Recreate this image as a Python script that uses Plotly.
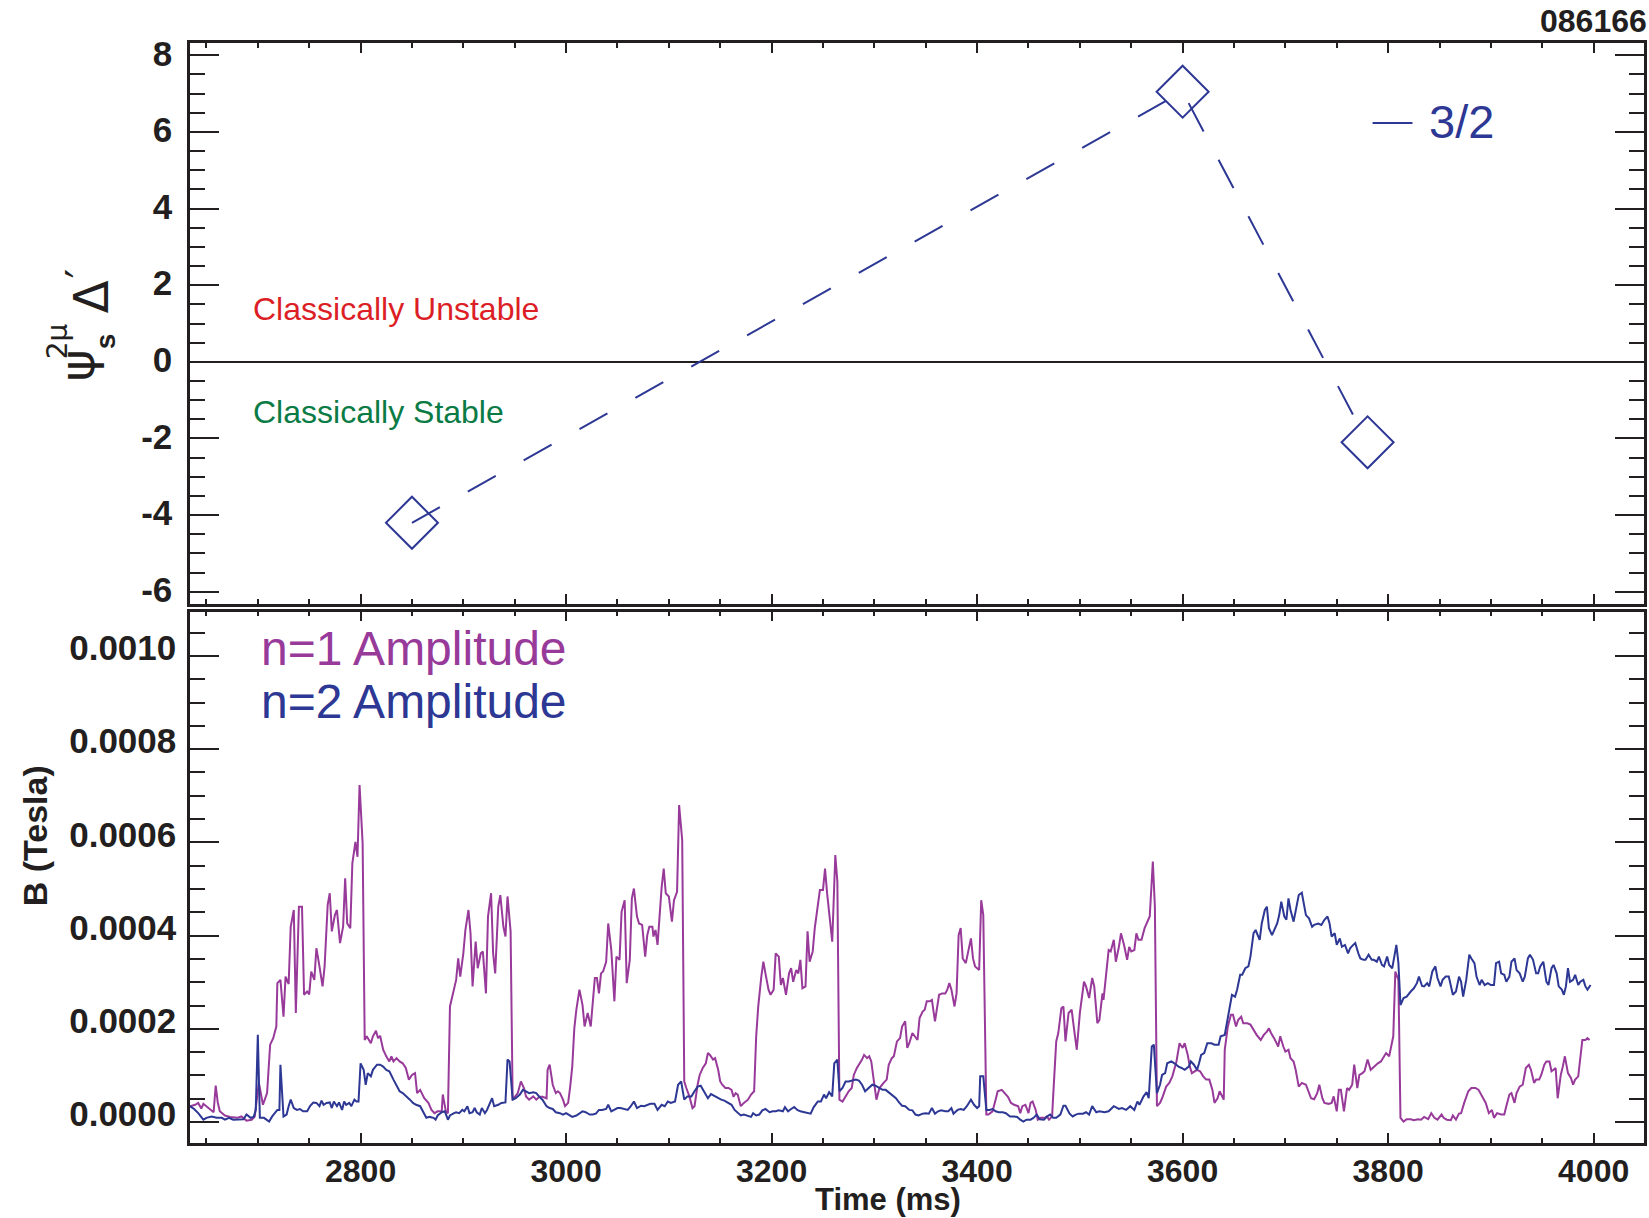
import plotly.graph_objects as go

# ---------------- data ----------------
# Delta' of the 3/2 surface (psi_s^{2mu} Delta') at three equilibrium times
delta_time = [2850, 3600, 3780]          # ms
delta_value = [-4.2, 7.05, -2.1]

# Mode amplitudes: (time [ms], amplitude [1e-4 T])
n1_samples = [
    (2634, .34), (2639, .37), (2642, .41), (2645, .29), (2647, .39), (2652, .30), (2657, .21), (2659, .78),
    (2661, .42), (2663, .23), (2668, .14), (2673, .11), (2680, .09), (2684, .12), (2689, .03), (2694, .05),
    (2697, .12), (2701, .84), (2703, .62), (2705, .37), (2709, .62), (2710, .98), (2712, 1.66), (2715, 1.80),
    (2718, 2.05), (2719, 2.98), (2722, 3.05), (2725, 2.26), (2727, 3.12), (2730, 2.96), (2732, 4.19),
    (2735, 4.55), (2737, 2.34), (2740, 4.62), (2743, 4.62), (2745, 2.73), (2748, 2.80), (2750, 2.74),
    (2752, 3.23), (2755, 3.05), (2757, 3.73), (2760, 3.34), (2763, 2.91), (2765, 3.34), (2768, 4.66),
    (2770, 4.91), (2772, 4.09), (2775, 4.44), (2777, 4.55), (2780, 3.84), (2783, 4.19), (2785, 5.23),
    (2787, 4.26), (2790, 4.16), (2792, 5.55), (2795, 6.01), (2797, 5.69), (2799, 7.23), (2802, 5.98),
    (2804, 1.76), (2806, 1.84), (2810, 1.69), (2812, 1.84), (2815, 1.96), (2817, 1.80), (2819, 1.85),
    (2822, 1.55), (2825, 1.41), (2828, 1.30), (2830, 1.41), (2832, 1.30), (2835, 1.37), (2838, 1.30),
    (2841, 1.26), (2844, 1.16), (2847, .91), (2850, 1.01), (2853, 1.05), (2855, .62), (2858, .69),
    (2860, .59), (2862, .51), (2866, .41), (2869, .26), (2872, .19), (2875, .23), (2879, .23), (2880, .59),
    (2883, .23), (2885, .19), (2887, 2.48), (2890, 2.76), (2893, 3.05), (2895, 3.51), (2897, 3.12),
    (2900, 3.62), (2902, 4.12), (2905, 4.55), (2907, 4.05), (2909, 2.91), (2912, 3.87), (2914, 3.30),
    (2917, 3.62), (2919, 3.66), (2922, 2.76), (2924, 4.41), (2927, 4.91), (2929, 3.62), (2931, 3.19),
    (2934, 4.62), (2936, 4.87), (2939, 4.19), (2941, 3.98), (2943, 4.84), (2946, 4.09), (2948, .48),
    (2951, .55), (2953, .62), (2956, .87), (2959, .73), (2961, .55), (2964, .48), (2968, .55), (2971, .48),
    (2974, .54), (2977, .54), (2981, .51), (2982, 1.12), (2984, 1.23), (2987, .80), (2990, .62), (2992, .66),
    (2994, .62), (2997, .48), (2999, .34), (3002, .41), (3004, .76), (3006, 1.19), (3008, 2.01), (3010, 2.41),
    (3013, 2.84), (3016, 2.51), (3018, 2.05), (3021, 2.34), (3024, 2.05), (3028, 3.09), (3030, 3.09),
    (3032, 2.76), (3034, 3.19), (3036, 3.23), (3039, 3.44), (3041, 4.26), (3044, 3.69), (3047, 2.59),
    (3049, 3.55), (3052, 3.48), (3054, 4.51), (3057, 4.76), (3059, 2.98), (3062, 3.48), (3064, 4.80),
    (3066, 5.01), (3069, 4.41), (3071, 4.26), (3074, 4.23), (3077, 3.55), (3079, 4.01), (3081, 4.19),
    (3084, 4.19), (3085, 3.98), (3087, 4.12), (3089, 3.80), (3093, 5.04), (3095, 5.44), (3097, 4.91),
    (3100, 4.84), (3103, 4.30), (3105, 4.76), (3108, 4.94), (3110, 6.80), (3113, 6.05), (3115, .87),
    (3117, .73), (3120, .55), (3123, .30), (3125, .34), (3128, .80), (3130, 1.01), (3133, 1.16), (3136, 1.26),
    (3138, 1.48), (3140, 1.44), (3143, 1.34), (3145, 1.37), (3148, 1.12), (3150, .87), (3152, .80),
    (3155, .73), (3158, .73), (3161, .69), (3163, .54), (3165, .62), (3167, .59), (3170, .34), (3173, .41),
    (3177, .48), (3180, .59), (3183, .66), (3185, 1.84), (3187, 2.48), (3190, 3.12), (3192, 3.44),
    (3194, 3.19), (3197, 2.84), (3199, 2.73), (3202, 2.84), (3204, 3.62), (3207, 3.55), (3209, 2.94),
    (3211, 3.09), (3214, 2.73), (3217, 3.19), (3219, 3.30), (3221, 3.01), (3224, 3.26), (3226, 3.19),
    (3228, 3.48), (3230, 2.87), (3233, 2.91), (3235, 4.09), (3237, 3.44), (3240, 3.66), (3242, 4.16),
    (3245, 4.69), (3247, 4.98), (3250, 4.98), (3252, 5.44), (3254, 4.91), (3257, 4.26), (3259, 3.87),
    (3262, 5.73), (3264, 5.16), (3266, .48), (3269, .44), (3272, .55), (3275, .66), (3278, .73), (3280, 1.01),
    (3283, 1.16), (3285, 1.23), (3288, 1.34), (3290, 1.44), (3293, 1.37), (3295, 1.41), (3297, 1.30),
    (3300, .80), (3302, .48), (3305, .73), (3307, .80), (3309, .84), (3312, .91), (3314, 1.23), (3317, 1.37),
    (3319, 1.41), (3322, 1.73), (3325, 1.80), (3327, 2.05), (3330, 2.16), (3332, 1.59), (3334, 1.69),
    (3337, 1.91), (3339, 1.84), (3342, 1.76), (3344, 2.23), (3347, 2.37), (3349, 2.41), (3351, 2.59),
    (3354, 2.59), (3356, 2.62), (3359, 2.16), (3361, 2.51), (3363, 2.73), (3366, 2.76), (3369, 2.76),
    (3371, 2.84), (3373, 2.98), (3375, 2.84), (3378, 2.48), (3380, 2.76), (3382, 4.01), (3384, 4.16),
    (3386, 3.51), (3389, 3.41), (3391, 3.62), (3394, 3.94), (3396, 3.51), (3398, 3.34), (3402, 3.26),
    (3404, 4.76), (3406, 4.44), (3409, .16), (3411, .16), (3415, .23), (3418, .48), (3420, .66), (3424, .69),
    (3427, .62), (3430, .54), (3433, .41), (3436, .37), (3440, .34), (3442, .19), (3444, .34), (3447, .37),
    (3450, .19), (3452, .41), (3454, .44), (3457, .26), (3459, .05), (3462, .09), (3466, .09), (3468, .12),
    (3470, .05), (3473, .12), (3474, .55), (3477, 1.73), (3479, 1.91), (3482, 2.44), (3484, 2.48),
    (3486, 1.73), (3489, 2.34), (3492, 2.41), (3494, 2.05), (3497, 1.55), (3500, 2.34), (3504, 3.01),
    (3506, 2.91), (3509, 2.66), (3512, 3.09), (3514, 2.91), (3517, 2.12), (3519, 2.19), (3522, 2.76),
    (3523, 2.62), (3528, 3.69), (3530, 3.66), (3533, 3.91), (3535, 3.44), (3538, 3.76), (3540, 4.05),
    (3543, 3.80), (3546, 3.48), (3548, 3.76), (3550, 3.66), (3553, 3.69), (3555, 4.05), (3557, 3.91),
    (3560, 3.91), (3563, 4.16), (3567, 4.37), (3568, 4.41), (3571, 5.59), (3573, 4.62), (3575, .34),
    (3578, .41), (3580, .51), (3584, .76), (3587, .84), (3590, .98), (3594, 1.30), (3596, 1.62), (3597, 1.69),
    (3600, 1.59), (3602, 1.69), (3605, 1.44), (3607, 1.19), (3609, 1.05), (3612, 1.09), (3614, 1.12),
    (3617, 1.09), (3620, .98), (3623, .91), (3626, .91), (3629, .69), (3631, .41), (3634, .51), (3636, .66),
    (3640, .48), (3641, 1.55), (3644, 2.05), (3647, 2.30), (3649, 2.30), (3652, 2.05), (3654, 2.19),
    (3657, 2.26), (3659, 2.12), (3663, 2.12), (3666, 2.09), (3669, 1.98), (3672, 1.87), (3676, 1.76),
    (3679, 1.87), (3682, 1.94), (3684, 2.01), (3686, 1.91), (3689, 1.80), (3693, 1.62), (3695, 1.84),
    (3698, 1.62), (3700, 1.51), (3703, 1.55), (3705, 1.37), (3708, 1.30), (3710, 1.12), (3713, .76),
    (3716, .84), (3720, .80), (3722, .69), (3725, .51), (3728, .49), (3731, .62), (3733, .80), (3736, .51),
    (3738, .41), (3742, .39), (3745, .41), (3747, .55), (3750, .23), (3752, .69), (3754, .69), (3757, .23),
    (3760, .73), (3762, .69), (3765, .80), (3767, 1.23), (3770, .73), (3772, 1.01), (3775, 1.05), (3777, 1.09),
    (3780, 1.34), (3783, 1.12), (3785, 1.16), (3788, 1.23), (3790, 1.26), (3793, 1.30), (3795, 1.37),
    (3798, 1.48), (3801, 1.41), (3803, 1.62), (3805, 1.84), (3807, 3.23), (3810, 3.05), (3812, .09),
    (3815, .01), (3818, .06), (3822, .06), (3825, .04), (3829, .06), (3832, .05), (3835, .11), (3839, .06),
    (3842, .19), (3845, .09), (3848, .05), (3852, .16), (3854, .09), (3857, .05), (3861, .04), (3863, .14),
    (3866, .05), (3869, .18), (3871, .19), (3874, .41), (3878, .66), (3881, .73), (3885, .73), (3888, .69),
    (3892, .51), (3895, .41), (3898, .19), (3901, .26), (3903, .09), (3906, .19), (3910, .16), (3913, .16),
    (3915, .34), (3918, .59), (3920, .62), (3923, .41), (3925, .62), (3928, .76), (3931, .80), (3934, 1.16),
    (3937, 1.23), (3939, 1.12), (3942, .84), (3944, .91), (3947, .91), (3949, 1.01), (3952, 1.23),
    (3954, 1.30), (3957, 1.30), (3959, 1.09), (3961, 1.12), (3963, 1.16), (3965, .51), (3968, 1.01),
    (3970, 1.19), (3972, 1.41), (3975, 1.05), (3978, .94), (3980, .80), (3982, .91), (3985, .98),
    (3987, 1.34), (3989, 1.76), (3992, 1.76), (3994, 1.80), (3996, 1.76),
]

n2_samples = [
    (2634, .34), (2638, .28), (2642, .19), (2647, .05), (2650, .09), (2655, .12), (2660, .09), (2665, .09),
    (2668, .05), (2672, .09), (2676, .05), (2681, .06), (2686, .06), (2689, .16), (2693, .09), (2696, .11),
    (2698, .26), (2700, 1.87), (2702, .09), (2706, .09), (2709, .05), (2711, .01), (2714, .12), (2717, .19),
    (2719, .26), (2721, .26), (2722, 1.23), (2725, .12), (2728, .16), (2730, .34), (2732, .48), (2735, .30),
    (2738, .26), (2741, .28), (2744, .23), (2748, .23), (2751, .35), (2754, .42), (2757, .41), (2760, .34),
    (2762, .46), (2764, .37), (2767, .41), (2770, .42), (2772, .30), (2774, .44), (2777, .34), (2779, .42),
    (2782, .26), (2784, .44), (2786, .37), (2789, .41), (2791, .34), (2794, .48), (2796, .44), (2798, .44),
    (2800, 1.26), (2803, 1.12), (2805, .80), (2807, 1.05), (2810, .98), (2812, 1.12), (2816, 1.23),
    (2819, 1.23), (2822, 1.19), (2825, 1.12), (2828, 1.09), (2832, .91), (2835, .80), (2838, .66),
    (2841, .62), (2845, .55), (2848, .48), (2851, .41), (2854, .37), (2858, .34), (2861, .23), (2864, .09),
    (2867, .11), (2871, .09), (2873, .05), (2875, .14), (2879, .21), (2882, .23), (2885, .05), (2887, .14),
    (2891, .19), (2893, .21), (2896, .19), (2899, .26), (2901, .23), (2904, .34), (2906, .19), (2909, .21),
    (2911, .30), (2913, .21), (2916, .16), (2918, .30), (2921, .19), (2923, .26), (2926, .41), (2928, .51),
    (2930, .34), (2934, .37), (2937, .41), (2941, .42), (2943, 1.34), (2945, 1.30), (2948, .48), (2951, .51),
    (2955, .59), (2958, .69), (2961, .66), (2964, .62), (2968, .64), (2971, .62), (2974, .54), (2977, .48),
    (2981, .34), (2984, .30), (2987, .28), (2990, .21), (2994, .19), (2997, .16), (3000, .19), (3003, .14),
    (3006, .11), (3010, .14), (3013, .19), (3016, .23), (3019, .21), (3023, .16), (3026, .16), (3029, .18),
    (3032, .26), (3035, .26), (3039, .28), (3041, .37), (3044, .23), (3047, .26), (3050, .30), (3053, .30),
    (3056, .28), (3060, .26), (3063, .34), (3066, .44), (3069, .30), (3073, .35), (3076, .34), (3079, .37),
    (3082, .39), (3086, .39), (3089, .26), (3093, .37), (3096, .34), (3099, .44), (3102, .41), (3106, .44),
    (3109, .80), (3112, .87), (3115, .48), (3118, .55), (3122, .55), (3125, .66), (3128, .76), (3131, .78),
    (3135, .62), (3138, .51), (3141, .60), (3144, .56), (3148, .51), (3151, .48), (3154, .46), (3157, .42),
    (3161, .37), (3164, .26), (3167, .21), (3170, .14), (3173, .16), (3177, .14), (3180, .11), (3182, .19),
    (3185, .14), (3188, .16), (3191, .25), (3194, .28), (3198, .21), (3201, .23), (3204, .23), (3207, .25),
    (3211, .23), (3213, .32), (3216, .23), (3219, .28), (3222, .32), (3225, .26), (3228, .23), (3232, .21),
    (3235, .19), (3238, .18), (3241, .32), (3245, .44), (3248, .44), (3251, .59), (3253, .51), (3256, .64),
    (3259, .55), (3261, 1.26), (3264, 1.34), (3266, .66), (3269, .73), (3272, .87), (3275, .87), (3279, .89),
    (3282, .91), (3285, .89), (3288, .80), (3291, .66), (3295, .73), (3298, .80), (3301, .78), (3305, .73),
    (3308, .69), (3311, .69), (3314, .64), (3317, .59), (3321, .51), (3324, .42), (3327, .35), (3330, .34),
    (3334, .26), (3337, .25), (3340, .16), (3343, .14), (3347, .18), (3350, .19), (3353, .18), (3356, .30),
    (3359, .18), (3362, .23), (3365, .25), (3369, .23), (3372, .23), (3375, .30), (3377, .18), (3381, .26),
    (3384, .28), (3387, .26), (3390, .34), (3394, .48), (3397, .37), (3400, .30), (3402, .34), (3403, .98),
    (3406, .98), (3409, .26), (3412, .26), (3415, .28), (3418, .23), (3421, .21), (3425, .21), (3428, .19),
    (3432, .12), (3436, .12), (3439, .11), (3442, .05), (3445, .01), (3448, .05), (3452, .05), (3455, .09),
    (3458, .16), (3461, .06), (3465, .05), (3468, .12), (3471, .16), (3474, .09), (3477, .09), (3481, .16),
    (3484, .35), (3486, .35), (3490, .18), (3493, .12), (3496, .16), (3499, .18), (3503, .18), (3506, .21),
    (3509, .16), (3512, .34), (3516, .21), (3519, .23), (3524, .21), (3528, .23), (3533, .34), (3538, .28),
    (3541, .30), (3545, .26), (3549, .34), (3553, .26), (3556, .44), (3558, .37), (3562, .55), (3565, .64),
    (3567, .51), (3570, 1.62), (3572, 1.66), (3575, .62), (3578, .80), (3580, 1.01), (3583, 1.05),
    (3585, 1.26), (3589, 1.30), (3592, 1.26), (3596, 1.19), (3599, 1.16), (3602, 1.12), (3606, 1.19),
    (3608, 1.30), (3611, 1.23), (3614, 1.12), (3616, 1.26), (3618, 1.44), (3621, 1.48), (3624, 1.69),
    (3628, 1.69), (3631, 1.66), (3635, 1.66), (3637, 1.84), (3641, 1.87), (3643, 2.12), (3646, 2.41),
    (3648, 2.73), (3651, 2.69), (3653, 2.84), (3656, 3.16), (3658, 3.16), (3661, 3.30), (3664, 3.34),
    (3666, 3.55), (3669, 4.05), (3671, 4.12), (3675, 3.91), (3677, 4.26), (3680, 4.55), (3682, 4.62),
    (3684, 4.16), (3687, 4.01), (3689, 4.12), (3692, 4.26), (3694, 4.44), (3696, 4.73), (3699, 4.41),
    (3701, 4.34), (3703, 4.80), (3705, 4.55), (3708, 4.30), (3710, 4.55), (3713, 4.87), (3716, 4.92),
    (3718, 4.69), (3720, 4.44), (3723, 4.37), (3726, 4.19), (3728, 4.23), (3732, 4.26), (3735, 4.23),
    (3738, 4.34), (3741, 4.41), (3743, 4.26), (3745, 3.98), (3748, 4.05), (3750, 3.80), (3753, 3.94),
    (3755, 3.76), (3758, 3.80), (3761, 3.62), (3763, 3.73), (3766, 3.80), (3768, 3.84), (3771, 3.62),
    (3773, 3.51), (3776, 3.48), (3778, 3.48), (3781, 3.59), (3784, 3.48), (3786, 3.48), (3789, 3.44),
    (3791, 3.55), (3794, 3.37), (3796, 3.34), (3799, 3.55), (3801, 3.37), (3804, 3.30), (3806, 3.55),
    (3808, 3.80), (3810, 3.41), (3812, 2.51), (3815, 2.66), (3818, 2.69), (3822, 2.80), (3825, 2.87),
    (3828, 2.98), (3830, 3.12), (3833, 2.92), (3835, 2.91), (3838, 2.98), (3840, 2.91), (3843, 3.23),
    (3846, 3.34), (3848, 3.09), (3851, 2.91), (3853, 3.05), (3856, 3.12), (3859, 3.12), (3861, 2.94),
    (3863, 2.73), (3866, 2.80), (3869, 3.12), (3871, 3.01), (3873, 2.69), (3876, 3.05), (3879, 3.59),
    (3881, 3.51), (3884, 3.41), (3886, 3.12), (3889, 2.94), (3891, 3.05), (3894, 2.94), (3897, 2.98),
    (3900, 2.94), (3903, 2.94), (3905, 3.41), (3908, 3.44), (3910, 3.19), (3913, 3.16), (3915, 3.01),
    (3918, 3.12), (3920, 3.44), (3923, 3.51), (3925, 3.26), (3928, 3.19), (3931, 3.01), (3933, 3.12),
    (3936, 3.51), (3938, 3.59), (3941, 3.48), (3944, 3.19), (3946, 3.19), (3948, 3.34), (3951, 3.44),
    (3954, 3.01), (3956, 2.94), (3959, 3.30), (3961, 3.37), (3964, 3.19), (3966, 2.91), (3969, 2.84),
    (3971, 2.73), (3973, 2.91), (3975, 3.30), (3977, 3.01), (3980, 3.05), (3982, 3.16), (3985, 2.94),
    (3987, 3.01), (3990, 3.05), (3992, 2.91), (3994, 2.84), (3997, 2.94),
]

AMP_UNIT = 1e-4  # amplitudes above are in units of 1e-4 T

n1_time = [t for t, _ in n1_samples]
n1_amp = [a * AMP_UNIT for _, a in n1_samples]
n2_time = [t for t, _ in n2_samples]
n2_amp = [a * AMP_UNIT for _, a in n2_samples]

x_ticks = [2800, 3000, 3200, 3400, 3600, 3800, 4000]
delta_ticks = [-6, -4, -2, 0, 2, 4, 6, 8]
delta_ticktext = ["-6", "-4", "-2", "0", "2", "4", "6", "8"]
b_ticks = [0, 0.0002, 0.0004, 0.0006, 0.0008, 0.0010]

# ---------------- styling ----------------
W, H = 1649, 1218
ML, MR, MT, MB = 190, 2, 43, 75

INK = "#231f20"
BLUE = "#2d3794"
PURPLE = "#983a9a"
RED = "#dc1f26"
GREEN = "#0a7b45"

NARROW = "Liberation Sans Narrow, Arial Narrow, Liberation Sans"
TICK_FONT = dict(family=NARROW, size=35, color=INK, weight="bold")
SANS = "Liberation Sans, Arial, Helvetica, sans-serif"
GREEK = "DejaVu Sans, Liberation Sans, sans-serif"


def px_x(px):
    return (px - ML) / (W - ML - MR)


def px_y(py):
    return (H - MB - py) / (H - MT - MB)


fig = go.Figure()

fig.add_trace(go.Scatter(
    x=delta_time, y=delta_value, mode="lines+markers",
    line=dict(color=BLUE, width=2, dash="32px,32px"),
    marker=dict(symbol="diamond-open", size=40, color=BLUE, line=dict(width=2, color=BLUE)),
    xaxis="x", yaxis="y", showlegend=False,
))

fig.add_trace(go.Scatter(
    x=n1_time, y=n1_amp, mode="lines", line=dict(color=PURPLE, width=2),
    xaxis="x2", yaxis="y2", showlegend=False,
))
fig.add_trace(go.Scatter(
    x=n2_time, y=n2_amp, mode="lines", line=dict(color=BLUE, width=2),
    xaxis="x2", yaxis="y2", showlegend=False,
))

common_x = dict(
    range=[2634, 4049], tickvals=x_ticks, ticks="inside", ticklen=10, tickwidth=2,
    tickcolor=INK, showline=True, linewidth=2.5, linecolor=INK, mirror="allticks",
    showgrid=False, zeroline=False,
    minor=dict(dtick=50, tick0=0, ticks="inside", ticklen=5, tickwidth=2, tickcolor=INK),
)
common_y = dict(
    ticks="inside", ticklen=29, tickwidth=2, tickcolor=INK, showline=True,
    linewidth=2.5, linecolor=INK, mirror="allticks", showgrid=False,
    tickfont=TICK_FONT,
)

top_domain = [px_y(604), 1.0]
bottom_domain = [0.0, px_y(611.7)]

fig.update_layout(
    width=W, height=H,
    margin=dict(l=ML, r=MR, t=MT, b=MB),
    paper_bgcolor="white", plot_bgcolor="white",
    showlegend=False,
    xaxis=dict(common_x, anchor="y", domain=[0, 1], showticklabels=False),
    yaxis=dict(common_y, domain=top_domain, anchor="x", range=[-6.32, 8.32],
               tickvals=delta_ticks, ticktext=delta_ticktext, ticklabelstandoff=8,
               ticklabelshift=-2,
               zeroline=True, zerolinecolor=INK, zerolinewidth=2,
               minor=dict(dtick=0.5, tick0=0, ticks="inside", ticklen=15, tickwidth=2, tickcolor=INK)),
    xaxis2=dict(common_x, anchor="y2", domain=[0, 1], matches="x",
                tickfont=dict(TICK_FONT, size=32), ticklabelstandoff=-2),
    yaxis2=dict(common_y, domain=bottom_domain, anchor="x2", range=[-0.000045, 0.001095],
                tickvals=b_ticks, tickformat=".4f",
                ticklabelstandoff=4, ticklabelshift=-8, zeroline=False,
                minor=dict(dtick=0.00005, tick0=0, ticks="inside", ticklen=15, tickwidth=2, tickcolor=INK)),
)

annotations = [
    # shot number
    dict(text="086166", x=px_x(1652), y=px_y(21), xanchor="right", yanchor="middle",
         font=dict(family=NARROW, size=32, color=INK, weight="bold")),
    # top-panel labels
    dict(text="Classically Unstable", x=px_x(251), y=px_y(309), xanchor="left", yanchor="middle",
         font=dict(family=SANS, size=32, color=RED)),
    dict(text="Classically Stable", x=px_x(251), y=px_y(412), xanchor="left", yanchor="middle",
         font=dict(family=SANS, size=32, color=GREEN)),
    dict(text="3/2", x=px_x(1430), y=px_y(121), xanchor="left", yanchor="middle",
         font=dict(family=SANS, size=47, color=BLUE)),
    # bottom-panel labels
    dict(text="n=1 Amplitude", x=px_x(259), y=px_y(648), xanchor="left", yanchor="middle",
         font=dict(family=SANS, size=48, color=PURPLE)),
    dict(text="n=2 Amplitude", x=px_x(259), y=px_y(701), xanchor="left", yanchor="middle",
         font=dict(family=SANS, size=48, color=BLUE)),
    # axis titles
    dict(text="Time (ms)", x=px_x(889), y=px_y(1199), xanchor="center", yanchor="middle",
         font=dict(family=SANS, size=31, color=INK, weight="bold")),
    dict(text="B (Tesla)", x=px_x(35), y=px_y(836), xanchor="center", yanchor="middle",
         textangle=-90, font=dict(family=SANS, size=34, color=INK, weight="bold")),
    # psi_s^{2mu} Delta' assembled from stacked pieces
    dict(text="ψ", x=px_x(77), y=px_y(365), xanchor="center", yanchor="middle", textangle=-90,
         font=dict(family=GREEK, size=48, color=INK)),
    dict(text="s", x=px_x(106), y=px_y(341), xanchor="center", yanchor="middle", textangle=-90,
         font=dict(family=SANS, size=28, color=INK, weight="bold")),
    dict(text="2μ", x=px_x(58), y=px_y(341), xanchor="center", yanchor="middle", textangle=-90,
         font=dict(family=GREEK, size=28, color=INK)),
    dict(text="Δ", x=px_x(91), y=px_y(297), xanchor="center", yanchor="middle", textangle=-90,
         font=dict(family=GREEK, size=48, color=INK)),
    dict(text="′", x=px_x(81), y=px_y(273), xanchor="center", yanchor="middle", textangle=-90,
         font=dict(family=GREEK, size=42, color=INK)),
]
for a in annotations:
    a.setdefault("xref", "paper")
    a.setdefault("yref", "paper")
    a.setdefault("showarrow", False)
fig.update_layout(annotations=annotations)

# short solid key line beside "3/2"
fig.add_shape(type="line", xref="paper", yref="paper",
              x0=px_x(1375), x1=px_x(1415), y0=px_y(123), y1=px_y(123),
              line=dict(color=BLUE, width=2))

fig.write_html("out.html")
